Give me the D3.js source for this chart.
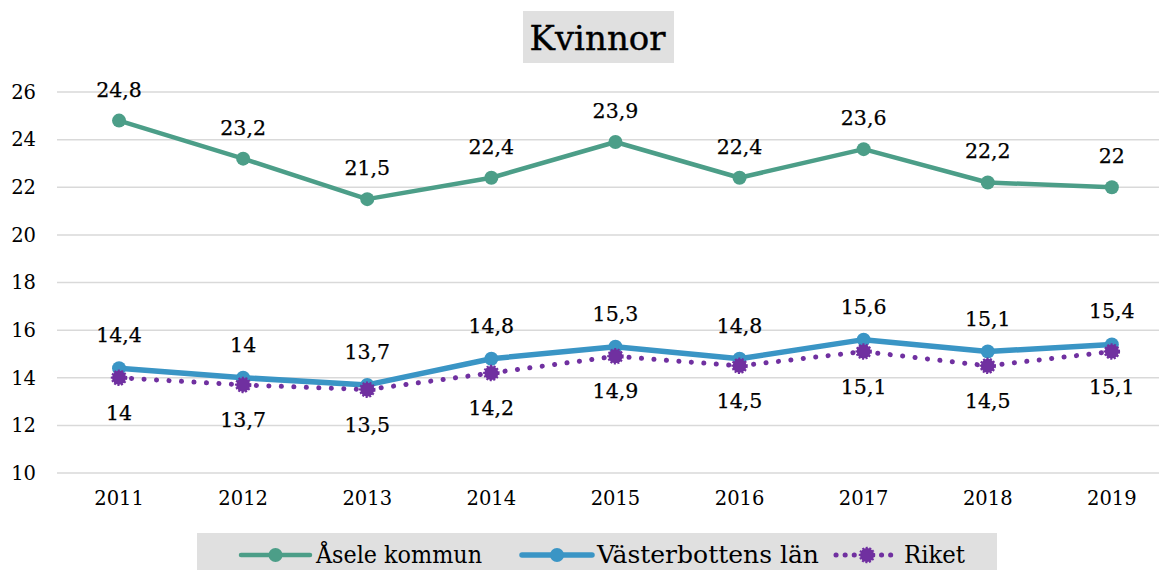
<!DOCTYPE html>
<html><head><meta charset="utf-8">
<script src="https://cdn.jsdelivr.net/npm/d3@7"></script>
<style>body{margin:0;background:#fff}svg{display:block}</style>
</head><body>
<script>
const years = ["2011","2012","2013","2014","2015","2016","2017","2018","2019"];
const asele = [24.8, 23.2, 21.5, 22.4, 23.9, 22.4, 23.6, 22.2, 22];
const vasterbotten = [14.4, 14, 13.7, 14.8, 15.3, 14.8, 15.6, 15.1, 15.4];
const riket = [14, 13.7, 13.5, 14.2, 14.9, 14.5, 15.1, 14.5, 15.1];
const yTicks = [10, 12, 14, 16, 18, 20, 22, 24, 26];
const seriesNames = ["Åsele kommun", "Västerbottens län", "Riket"];

const W = 1159, H = 570;
const FONT = "'DejaVu Serif', serif";
const svg = d3.select("body").append("svg").attr("width", W).attr("height", H);

const x = d3.scaleBand().domain(years).range([57, 57 + 9 * 124.1]);
const y = d3.scaleLinear().domain([10, 26]).range([473, 92]);
const cx = d => x(d) + x.bandwidth() / 2;

// gridlines
svg.append("g").selectAll("line").data(yTicks).join("line")
  .attr("x1", 57).attr("x2", W).attr("y1", d => y(d)).attr("y2", d => y(d))
  .attr("stroke", "#d9d9d9").attr("stroke-width", 1.5);

// y axis labels
const yAxis = d3.axisLeft(y).tickValues(yTicks).tickSize(0).tickPadding(0);
const gy = svg.append("g").attr("transform", "translate(36,0)").call(yAxis);
gy.select(".domain").remove();
gy.selectAll("text").attr("font-family", FONT).attr("font-size", 19.5).attr("fill", "#000");

// x axis labels
const xAxis = d3.axisBottom(x).tickSize(0).tickPadding(0);
const gx = svg.append("g").attr("transform", "translate(0,491)").call(xAxis);
gx.select(".domain").remove();
gx.selectAll("text").attr("font-family", FONT).attr("font-size", 19.5).attr("fill", "#000");

const fmt = v => String(v).replace(".", ",");
const series = [
  {name: seriesNames[0], values: asele, color: "#4c9e88", width: 4.5, dash: null, labelDy: -31, lw: 166},
  {name: seriesNames[1], values: vasterbotten, color: "#3a95c5", width: 5.5, dash: null, labelDy: -33, lw: 222},
  {name: seriesNames[2], values: riket, color: "#7030a0", width: 5, dash: "0.1 12.4", labelDy: 35, lw: 61}
];

const line = d3.line().x((d, i) => cx(years[i])).y(d => y(d));

series.forEach(s => {
  svg.append("path").attr("d", line(s.values)).attr("fill", "none")
    .attr("stroke", s.color).attr("stroke-width", s.width)
    .attr("stroke-linecap", "round").attr("stroke-linejoin", "round")
    .attr("stroke-dasharray", s.dash);
});
series.forEach(s => {
  const g = svg.append("g");
  g.selectAll("circle").data(s.values).join("circle")
    .attr("cx", (d, i) => cx(years[i])).attr("cy", d => y(d)).attr("r", 7)
    .attr("fill", s.color)
    .attr("stroke", s.color).attr("stroke-width", s.dash ? 2.5 : 0)
    .attr("stroke-dasharray", s.dash ? "2 1.5" : null);
  g.selectAll("text").data(s.values).join("text")
    .attr("x", (d, i) => cx(years[i])).attr("y", d => y(d) + s.labelDy)
    .attr("text-anchor", "middle").attr("dominant-baseline", "central")
    .attr("font-family", FONT).attr("font-size", 20.5).attr("fill", "#000")
    .attr("stroke", "#000").attr("stroke-width", 0.25)
    .text(d => fmt(d));
});

// title
svg.append("rect").attr("x", 523).attr("y", 11).attr("width", 151).attr("height", 52).attr("fill", "#e0e0e0");
svg.append("text").attr("x", 597.5).attr("y", 38).attr("text-anchor", "middle")
  .attr("dominant-baseline", "central").attr("font-family", FONT).attr("font-size", 34)
  .attr("fill", "#000").attr("stroke", "#000").attr("stroke-width", 0.4).text("Kvinnor");

// legend
const lg = svg.append("g");
lg.append("rect").attr("x", 197).attr("y", 533).attr("width", 800).attr("height", 40).attr("fill", "#e0e0e0");
const legendItems = [
  {s: series[0], x0: 241, x1: 310, tx: 316},
  {s: series[1], x0: 522, x1: 592, tx: 597},
  {s: series[2], x0: 836, x1: 898, tx: 904}
];
const ly = 555;
legendItems.forEach(it => {
  lg.append("line").attr("x1", it.x0).attr("x2", it.x1).attr("y1", ly).attr("y2", ly)
    .attr("stroke", it.s.color).attr("stroke-width", it.s.width)
    .attr("stroke-linecap", "round").attr("stroke-dasharray", it.s.dash ? "0.1 9" : null);
  lg.append("circle").attr("cx", (it.x0 + it.x1) / 2).attr("cy", ly).attr("r", 7)
    .attr("fill", it.s.color).attr("stroke", it.s.color)
    .attr("stroke-width", it.s.dash ? 2.5 : 0).attr("stroke-dasharray", it.s.dash ? "2 1.5" : null);
  lg.append("text").attr("x", it.tx).attr("y", ly).attr("dominant-baseline", "central")
    .attr("font-family", "'DejaVu Serif Condensed', 'DejaVu Serif', serif").attr("font-size", 24)
    .attr("textLength", it.s.lw).attr("lengthAdjust", "spacingAndGlyphs")
    .attr("fill", "#000").text(it.s.name);
});
</script>
</body></html>
